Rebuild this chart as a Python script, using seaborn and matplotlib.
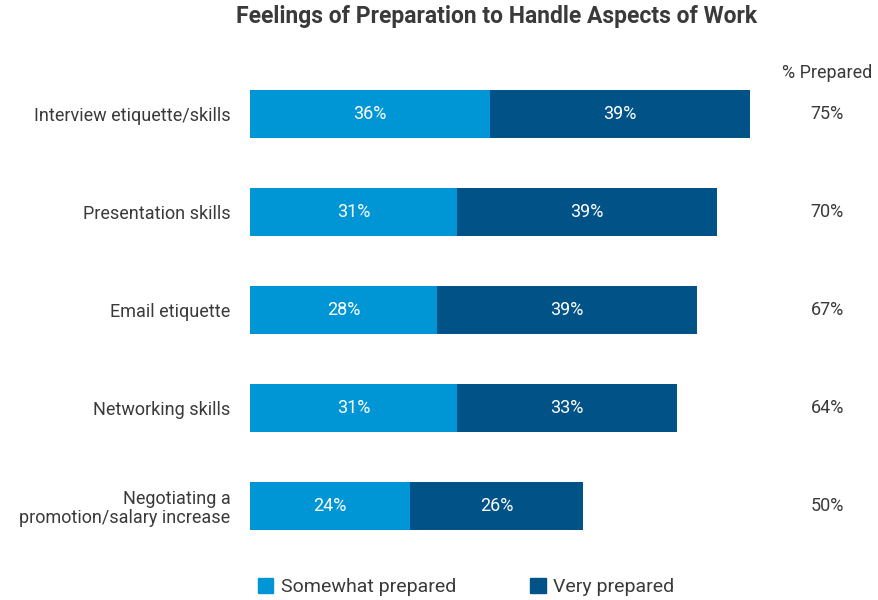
import pandas as pd
import seaborn as sns
from matplotlib import pyplot as plt
from matplotlib.patches import Patch

# values
aspects = ['Interview etiquette/skills', 'Presentation skills', 'Email etiquette',
           'Networking skills', 'Negotiating a\npromotion/salary increase']
somewhat = [36, 31, 28, 31, 24]
very = [39, 39, 39, 33, 26]
prepared = [75, 70, 67, 64, 50]

light = '#0096d6'
dark = '#005287'
grey = '#3a3a3a'

sns.set_style('white')
plt.rcParams['font.family'] = ['Liberation Sans Narrow', 'Roboto', 'DejaVu Sans']

df = pd.DataFrame({'aspect': aspects, 'somewhat': somewhat, 'very': very})
df['total'] = df['somewhat'] + df['very']

fig = plt.figure(figsize=(8.79, 6), dpi=100)
ax = fig.add_axes([250 / 879, 45 / 600, 600 / 879, 490 / 600])

# stacked: draw totals in dark, then the "somewhat" part over them
sns.barplot(data=df, x='total', y='aspect', color=dark, width=0.49, ax=ax,
            saturation=1, orient='h', linewidth=0)
sns.barplot(data=df, x='somewhat', y='aspect', color=light, width=0.49, ax=ax,
            saturation=1, orient='h', linewidth=0)

for i, (s, v) in enumerate(zip(somewhat, very)):
    ax.text(s / 2, i, f'{s}%', color='white', ha='center', va='center', fontsize=13)
    ax.text(s + v / 2, i, f'{v}%', color='white', ha='center', va='center', fontsize=13)
    ax.text(86.6, i, f'{prepared[i]}%', color=grey, ha='center', va='center', fontsize=13)

ax.text(86.6, -0.42, '% Prepared', color=grey, ha='center', va='center', fontsize=13)

ax.set_xlim(0, 90)
ax.set_ylim(4.5, -0.5)
ax.set_xlabel('')
ax.set_ylabel('')
ax.set_xticks([])
ax.tick_params(axis='y', length=0, pad=14, labelsize=13, labelcolor=grey)
for lab in ax.get_yticklabels():
    lab.set_horizontalalignment('right')
    lab.set_linespacing(1.1)
sns.despine(ax=ax, left=True, bottom=True)

fig.text(497 / 879, 1 - 16 / 600, 'Feelings of Preparation to Handle Aspects of Work',
         ha='center', va='center', fontsize=16.5, fontweight='bold', color=grey)

handles = [Patch(color=light, label='Somewhat prepared'), Patch(color=dark, label='Very prepared')]
fig.legend(handles=handles, loc='center left', bbox_to_anchor=(240 / 879, 1 - 587 / 600),
           ncol=2, frameon=False, fontsize=14, handlelength=0.8, handleheight=0.8,
           handletextpad=0.4, columnspacing=3.8, labelcolor=grey)

fig.savefig('out.png', dpi=100, facecolor='white')
